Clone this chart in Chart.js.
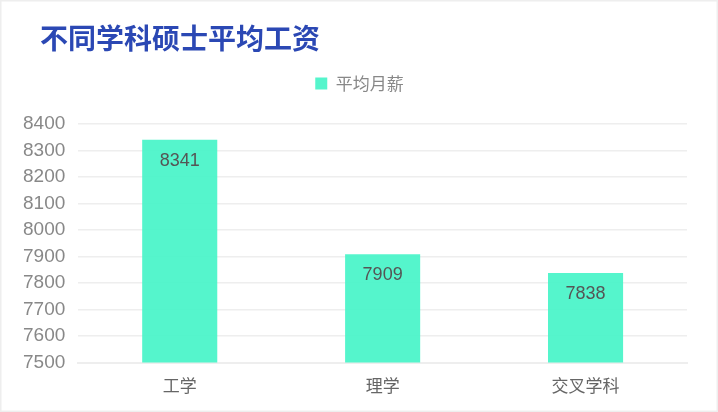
<!DOCTYPE html>
<html>
<head>
<meta charset="utf-8">
<script src="https://cdn.jsdelivr.net/npm/chart.js@4"></script>
<style>
  html, body { margin: 0; padding: 0; background: #fff; }
  #wrap { width: 718px; height: 412px; }
</style>
</head>
<body>
<div id="wrap"><canvas id="myChart" width="718" height="412"></canvas></div>
<script>
// data
const titleText = "不同学科硕士平均工资";
const seriesName = "平均月薪";
const categories = ["工学", "理学", "交叉学科"];
const salary = [8341, 7909, 7838];
const yMin = 7500;
const yMax = 8400;
const yStep = 100;

const cjk = "'Noto Sans CJK SC', 'Liberation Sans', sans-serif";

// frame + title
const framePlugin = {
  id: "frame",
  beforeDraw(chart) {
    const ctx = chart.ctx;
    ctx.save();
    ctx.fillStyle = "#fff";
    ctx.fillRect(0, 0, chart.width, chart.height);
    ctx.strokeStyle = "#eeeeee";
    ctx.lineWidth = 3;
    ctx.strokeRect(0, 0, chart.width, chart.height);
    ctx.restore();
  },
  afterDraw(chart) {
    const ctx = chart.ctx;
    ctx.save();
    ctx.font = "bold 28px " + cjk;
    ctx.fillStyle = "#2b48b4";
    ctx.textBaseline = "middle";
    ctx.fillText(titleText, 40, 38);
    ctx.restore();
  },
};

// extra room under the legend, and centre it on the page
const legendMargin = {
  id: "legendMargin",
  beforeInit(chart) {
    const fit = chart.legend.fit;
    chart.legend.fit = function () {
      fit.bind(chart.legend)();
      this.height += 22;
    };
  },
  afterLayout(chart) {
    chart.legend.left += 11;
    chart.legend.right += 11;
  },
};

// values inside the top of each bar
const barLabels = {
  id: "barLabels",
  afterDatasetsDraw(chart) {
    const ctx = chart.ctx;
    const meta = chart.getDatasetMeta(0);
    ctx.save();
    ctx.font = "18px 'Liberation Sans', sans-serif";
    ctx.fillStyle = "#555";
    ctx.textAlign = "center";
    ctx.textBaseline = "middle";
    meta.data.forEach(function (bar, i) {
      ctx.fillText(salary[i], bar.x, bar.y + 21);
    });
    ctx.restore();
  },
};

let ctx = document.getElementById("myChart").getContext("2d");

let myChart = new Chart(ctx, {
  type: "bar",
  data: {
    labels: categories,
    datasets: [
      {
        label: seriesName,
        data: salary,
        backgroundColor: "rgba(72, 244, 200, 0.93)",
        borderWidth: 0,
        categoryPercentage: 1,
        barPercentage: 0.37,
      },
    ],
  },
  options: {
    responsive: false,
    animation: false,
    layout: {
      padding: { top: 67, left: 10, right: 31, bottom: 11 },
    },
    plugins: {
      title: { display: false },
      tooltip: { enabled: false },
      legend: {
        display: true,
        position: "top",
        labels: {
          boxWidth: 12,
          boxHeight: 12,
          padding: 8,
          color: "#888",
          font: { family: cjk, size: 17 },
        },
      },
    },
    scales: {
      x: {
        grid: { display: false },
        border: { display: true, color: "#eeeeee", width: 2 },
        ticks: {
          color: "#666",
          padding: 5,
          font: { family: cjk, size: 17 },
        },
      },
      y: {
        min: yMin,
        max: yMax,
        border: { display: false },
        grid: { color: "#eeeeee", lineWidth: 1.5, drawTicks: false },
        ticks: {
          stepSize: yStep,
          color: "#888",
          padding: 13,
          font: { family: "'Liberation Sans', sans-serif", size: 19 },
          callback: function (v) { return String(v); },
        },
      },
    },
  },
  plugins: [framePlugin, legendMargin, barLabels],
});
</script>
</body>
</html>
